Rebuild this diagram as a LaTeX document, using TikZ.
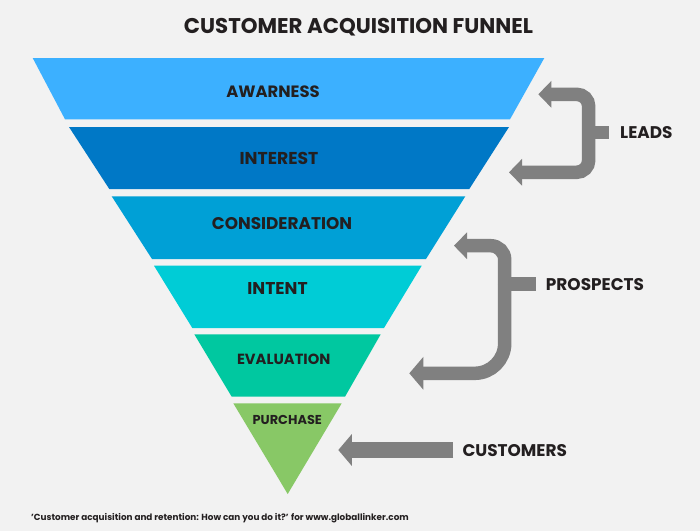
\documentclass[tikz,border=0pt]{standalone}
\usepackage{fontspec}
\setmainfont{Poppins}
\usetikzlibrary{arrows.meta}
\definecolor{bg}{HTML}{F2F2F2}
\definecolor{cA}{HTML}{3CB0FF}
\definecolor{cB}{HTML}{0078C6}
\definecolor{cC}{HTML}{00A0D6}
\definecolor{cD}{HTML}{00CCD6}
\definecolor{cE}{HTML}{00C8A0}
\definecolor{cF}{HTML}{88C866}
\definecolor{gr}{HTML}{808080}
\definecolor{ink}{HTML}{231F20}
\newcommand{\fsz}[1]{\bfseries\fontsize{#1}{#1}\selectfont}
\tikzset{
  lbl/.style={inner sep=0pt, text=ink, font=\fsz{16.6}, anchor=base},
  side/.style={inner sep=0pt, text=ink, font=\fsz{16.9}, anchor=base west},
  garrow/.style={draw=gr, line width=13.5pt},
}
\begin{document}
\begin{tikzpicture}[x=1pt,y=-1pt]
\fill[bg] (0,0) rectangle (700,531);
\useasboundingbox (0,0) rectangle (700,531);
% funnel bands
\fill[cA] (32.7,58) -- (544.3,58) -- (510,119.3) -- (65,119.3) -- cycle;
\fill[cB] (69,127) -- (509,127) -- (469.3,189) -- (109.3,189) -- cycle;
\fill[cC] (111.7,196.3) -- (465.3,196.3) -- (426,259) -- (152,259) -- cycle;
\fill[cD] (154,265.7) -- (421.7,265.7) -- (384,328) -- (192.3,328) -- cycle;
\fill[cE] (194.3,334.3) -- (380.7,334.3) -- (345,396.7) -- (231.7,396.7) -- cycle;
\fill[cF] (233.3,403.3) -- (341.7,403.3) -- (287.7,494) -- cycle;
% title
\node[lbl, font=\fsz{21.3}] (title) at (358.5,33.3) {CUSTOMER ACQUISITION FUNNEL};
% band labels
\node[lbl, font=\fsz{16.4}] (aw) at (273,97.3) {AWARNESS};
\node[lbl, font=\fsz{17.2}] (in) at (279,164) {INTEREST};
\node[lbl, font=\fsz{16.9}] (co) at (282,229.3) {CONSIDERATION};
\node[lbl, font=\fsz{17.1}] (it) at (277.5,294.3) {INTENT};
\node[lbl, font=\fsz{14.7}] (ev) at (283.7,364.3) {EVALUATION};
\node[lbl, font=\fsz{12.9}] (pu) at (287.3,424.3) {PURCHASE};
% side labels
\node[side] (leads) at (620,138.3) {LEADS};
\node[side] (pros) at (545.7,290) {PROSPECTS};
\node[side] (cust) at (462.3,456) {CUSTOMERS};
% leads bracket
\coordinate (lA) at (538.3,94.3);
\coordinate (lC1) at (588.7,94.3);
\coordinate (lC2) at (588.7,172.3);
\coordinate (lB) at (509,172.3);
\coordinate (lM) at (588.7,132.7);
\draw[garrow, rounded corners=12pt, {Triangle[length=13pt,width=26pt]}-{Triangle[length=13pt,width=26pt]}] (lA) -- (lC1) -- (lC2) -- (lB);
\draw[garrow] (lM) -- ([xshift=-10.7pt]leads.west |- lM);
% prospects bracket
\coordinate (pA) at (454,245.7);
\coordinate (pC1) at (504.7,245.7);
\coordinate (pM) at (504.7,284);
\coordinate (pC2) at (504.7,373.3);
\coordinate (pB) at (409.3,373.3);
\draw[garrow, rounded corners=14pt, {Triangle[length=13pt,width=26pt]}-] (pA) -- (pC1) -- (pM);
\draw[garrow, rounded corners=30pt, -{Triangle[length=14pt,width=32pt]}] (pM) -- (pC2) -- (pB);
\draw[garrow] (pM) -- ([xshift=-9.7pt]pros.west |- pM);
% customers arrow
\coordinate (cT) at (338.3,450);
\draw[garrow, line width=16pt, -{Triangle[length=13.5pt,width=31pt]}] ([xshift=-9pt]cust.west |- cT) -- (cT);
% footer
\node[inner sep=0pt, text=ink, font=\fsz{8.85}, anchor=base west] (foot) at (31,520.7) {'Customer acquisition and retention: How can you do it?' for www.globallinker.com};
\end{tikzpicture}
\end{document}
